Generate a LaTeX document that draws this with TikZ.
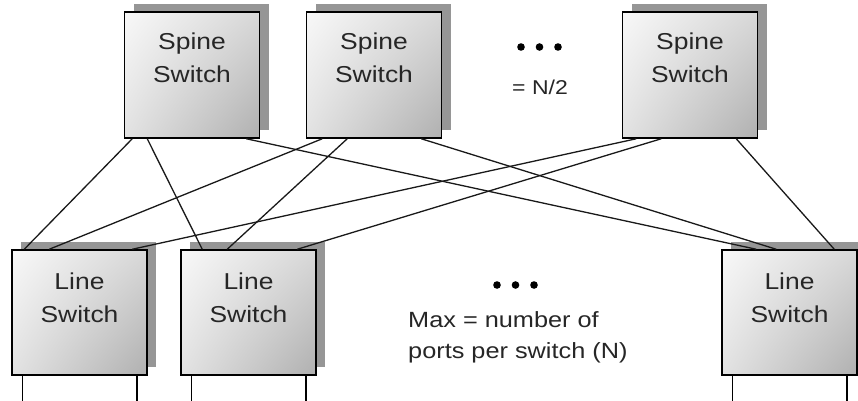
\documentclass[tikz,border=0pt]{standalone}
\usepackage{fontspec}
\setmainfont[FakeStretch=1.15]{Liberation Sans}
\usetikzlibrary{shadows,shadings}
\definecolor{shadowgray}{RGB}{150,150,150}
\definecolor{ulc}{RGB}{248,248,248}
\definecolor{urc}{RGB}{216,216,216}
\definecolor{llc}{RGB}{226,226,226}
\definecolor{lrc}{RGB}{176,176,176}
\tikzset{
  switchbox/.style={rectangle, draw=black, line width=1.5pt, inner sep=0pt,
    minimum width=135pt, minimum height=#1,
    upper left=ulc, upper right=urc, lower left=llc, lower right=lrc,
    drop shadow={shadow xshift=9pt, shadow yshift=8pt, fill=shadowgray, opacity=1, draw=none}},
  boxlabel/.style={anchor=north, inner sep=0pt, align=center,
    font=\fontsize{23}{33}\selectfont, text=black!85},
  link/.style={line width=1.3pt, black!90},
  leg/.style={line width=1.5pt, black},
  note/.style={inner sep=0pt, text=black!85},
  dotmark/.style={fill=black}
}
\begin{document}
\begin{tikzpicture}[x=1pt, y=-1pt]
\useasboundingbox (0,0) rectangle (858,400);
% spine switches
\node[switchbox=126pt] (s1) at (192,75) {};
\node[switchbox=126pt] (s2) at (374,75) {};
\node[switchbox=126pt] (s3) at (690,75) {};
% line switches
\node[switchbox=125pt] (l1) at (79.5,312.5) {};
\node[switchbox=125pt] (l2) at (248.5,312.5) {};
\node[switchbox=125pt] (l3) at (789.5,312.5) {};
% labels
\node[boxlabel] (s1t) at ([yshift=-21pt]s1.north) {Spine\\Switch};
\node[boxlabel] (s2t) at ([yshift=-21pt]s2.north) {Spine\\Switch};
\node[boxlabel] (s3t) at ([yshift=-21pt]s3.north) {Spine\\Switch};
\node[boxlabel] (l1t) at ([yshift=-23pt]l1.north) {Line\\Switch};
\node[boxlabel] (l2t) at ([yshift=-23pt]l2.north) {Line\\Switch};
\node[boxlabel] (l3t) at ([yshift=-23pt]l3.north) {Line\\Switch};
% links
\draw[link] ([xshift=8.5pt]s1.south west) -- ([xshift=13pt]l1.north west);
\draw[link] ([xshift=23.5pt]s1.south west) -- ([xshift=22pt]l2.north west);
\draw[link] ([xshift=122.5pt]s1.south west) -- ([xshift=35pt]l3.north west);
\draw[link] ([xshift=16.5pt]s2.south west) -- ([xshift=38pt]l1.north west);
\draw[link] ([xshift=41.5pt]s2.south west) -- ([xshift=47pt]l2.north west);
\draw[link] ([xshift=115.5pt]s2.south west) -- ([xshift=55pt]l3.north west);
\draw[link] ([xshift=14.5pt]s3.south west) -- ([xshift=121pt]l1.north west);
\draw[link] ([xshift=39.5pt]s3.south west) -- ([xshift=117pt]l2.north west);
\draw[link] ([xshift=114.5pt]s3.south west) -- ([xshift=113pt]l3.north west);
% legs
\foreach \n in {l1,l2,l3}{
  \draw[leg] ([xshift=11pt]\n.south west) -- ++(0,26);
  \draw[leg] ([xshift=-11pt]\n.south east) -- ++(0,26);
}
% ellipses
\foreach \x in {521,539.5,558} \fill[dotmark] (\x,47) circle (3.8pt);
\foreach \x in {497,515.5,534} \fill[dotmark] (\x,285) circle (3.8pt);
\node[note, anchor=north, font=\fontsize{20}{24}\selectfont] (half) at (540,80) {= N/2};
\node[note, anchor=north west, align=left, font=\fontsize{22}{31}\selectfont] (maxn) at (408,311) {Max = number of\\ports per switch (N)};
\end{tikzpicture}
\end{document}
